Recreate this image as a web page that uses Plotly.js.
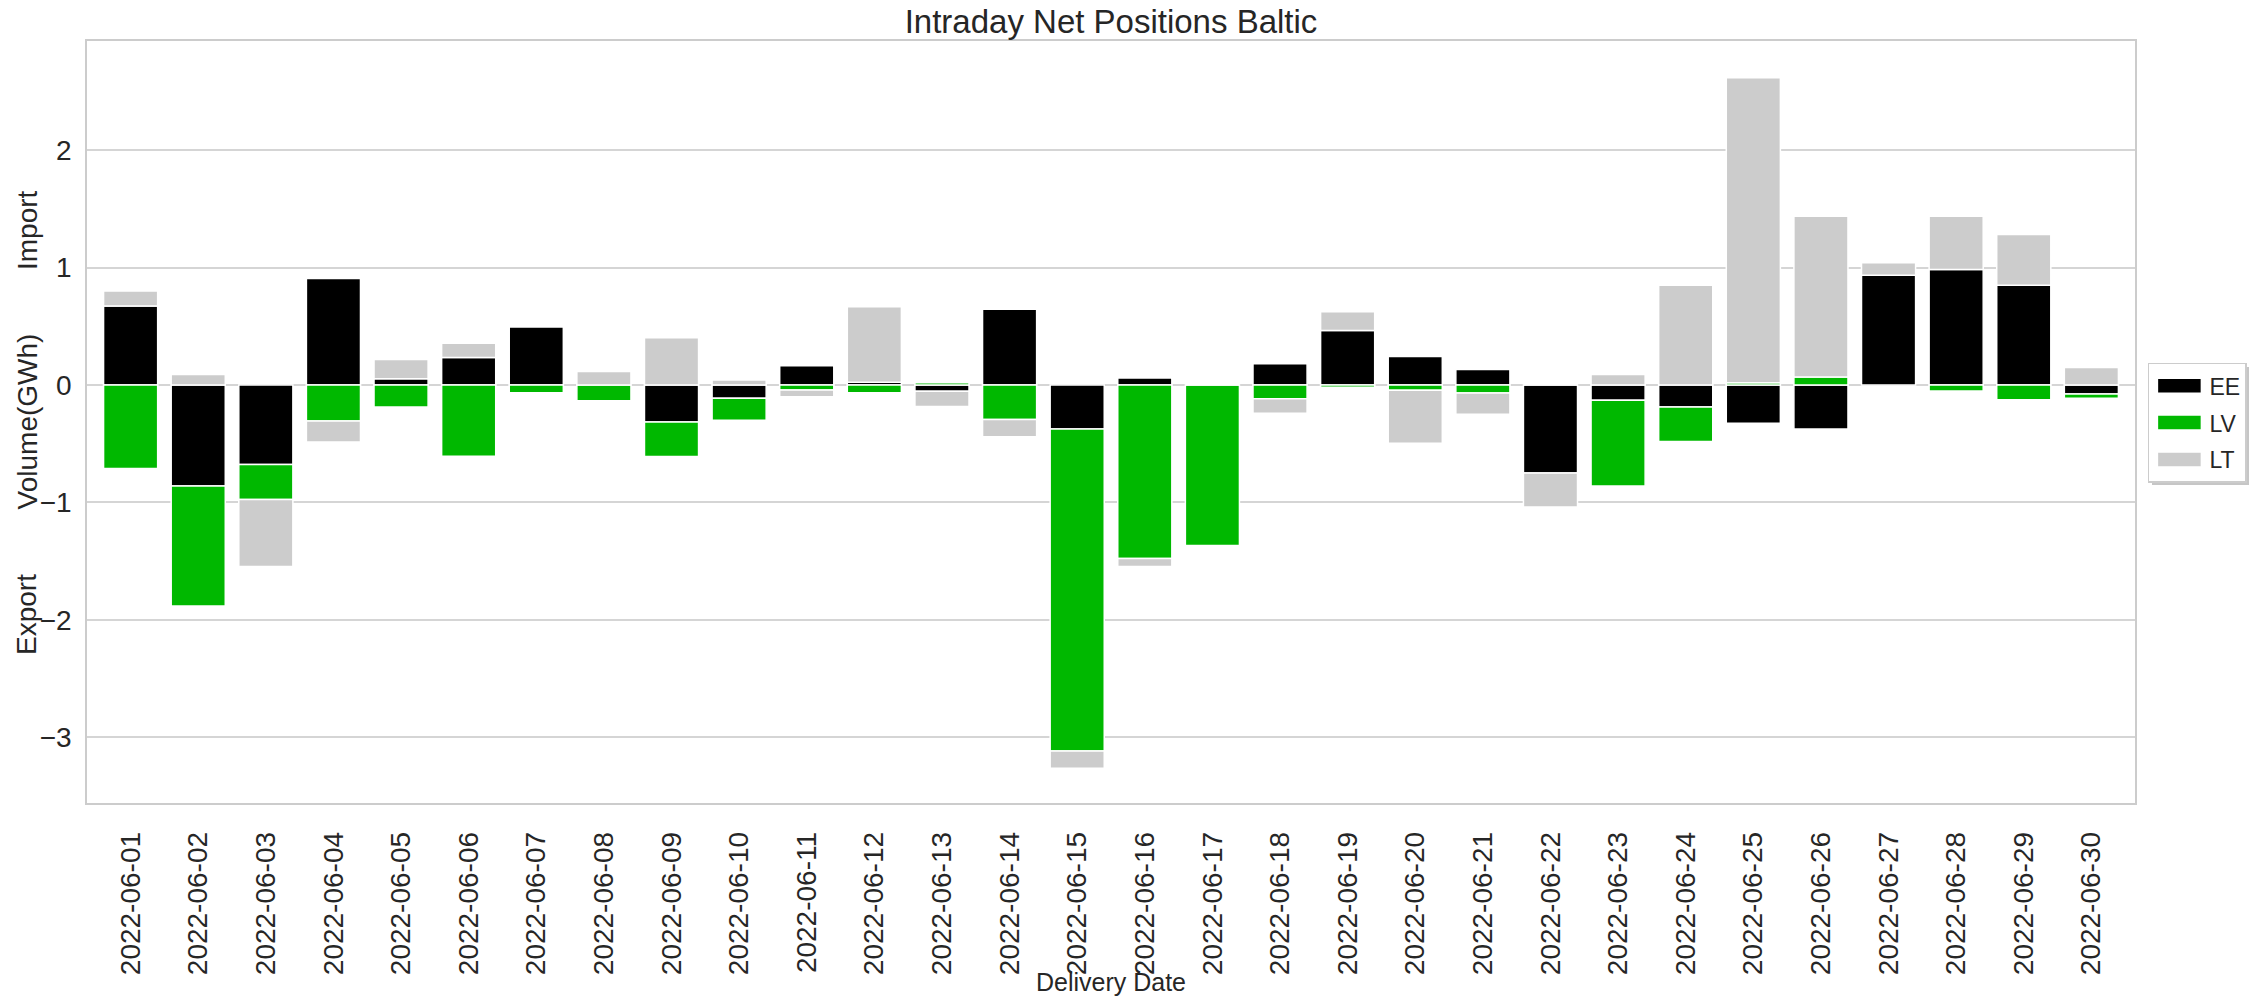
<!DOCTYPE html>
<html>
<head>
<meta charset="utf-8">
<script src="https://cdn.plot.ly/plotly-3.0.1.min.js"></script>
<style>
  html, body { margin: 0; padding: 0; background: #ffffff; }
  #chart { width: 2265px; height: 996px; }
</style>
</head>
<body>
<div id="chart"></div>
<script>
// ---- data (GWh) ----
const dates = [
  "2022-06-01","2022-06-02","2022-06-03","2022-06-04","2022-06-05","2022-06-06",
  "2022-06-07","2022-06-08","2022-06-09","2022-06-10","2022-06-11","2022-06-12",
  "2022-06-13","2022-06-14","2022-06-15","2022-06-16","2022-06-17","2022-06-18",
  "2022-06-19","2022-06-20","2022-06-21","2022-06-22","2022-06-23","2022-06-24",
  "2022-06-25","2022-06-26","2022-06-27","2022-06-28","2022-06-29","2022-06-30"
];
const eeValues = [
  0.672, -0.86, -0.677, 0.908, 0.053, 0.235,
  0.496, 0, -0.314, -0.113, 0.164, 0.023,
  -0.054, 0.646, -0.374, 0.059, 0, 0.181,
  0.465, 0.243, 0.132, -0.75, -0.13, -0.187,
  -0.326, -0.374, 0.935, 0.984, 0.85, -0.076
];
const lvValues = [
  -0.712, -1.023, -0.298, -0.307, -0.187, -0.606,
  -0.065, -0.133, -0.295, -0.187, -0.042, -0.065,
  0.02, -0.294, -2.743, -1.478, -1.367, -0.117,
  -0.018, -0.044, -0.067, 0, -0.73, -0.295,
  0.02, 0.068, 0, -0.051, -0.125, -0.037
];
const ltValues = [
  0.128, 0.089, -0.57, -0.178, 0.165, 0.12,
  0, 0.116, 0.402, 0.042, -0.057, 0.643,
  -0.13, -0.147, -0.147, -0.067, 0, -0.123,
  0.158, -0.453, -0.182, -0.29, 0.09, 0.85,
  2.598, 1.37, 0.107, 0.454, 0.432, 0.15
];
const seriesNames = ["EE", "LV", "LT"];
const seriesColors = ["#000000", "#00b800", "#cccccc"];
const yTickValues = [-3, -2, -1, 0, 1, 2];

const FONT = '"Liberation Sans", Arial, sans-serif';
const TEXT = '#262626';

const seriesValues = [eeValues, lvValues, ltValues];
const traces = seriesNames.map((name, i) => ({
  type: 'bar',
  name: name,
  x: dates,
  y: seriesValues[i],
  width: 0.8,
  legendgroup: name,
  marker: { color: seriesColors[i], line: { color: '#ffffff', width: 1.5 } },
  hovertemplate: '%{x}<br>' + name + ': %{y:.3f} GWh<extra></extra>'
}));

const yTitleFont = { family: FONT, size: 28, color: TEXT };

const layout = {
  width: 2265,
  height: 996,
  paper_bgcolor: '#ffffff',
  plot_bgcolor: '#ffffff',
  barmode: 'relative',
  bargap: 0.2,
  margin: { l: 87, r: 130, t: 41, b: 193, pad: 0 },
  font: { family: FONT, color: TEXT },
  title: {
    text: 'Intraday Net Positions Baltic',
    font: { family: FONT, size: 33, color: TEXT },
    x: 0.5, xref: 'paper', xanchor: 'center',
    y: 0.9784, yref: 'container', yanchor: 'middle'
  },
  xaxis: {
    type: 'category',
    range: [-0.645, 29.645],
    tickangle: -90,
    tickfont: { family: FONT, size: 28, color: TEXT },
    ticks: '',
    ticklabelstandoff: 16,
    showgrid: false,
    showline: true, mirror: true, linecolor: '#cccccc', linewidth: 1.5,
    zeroline: false,
    automargin: false,
    title: { text: 'Delivery Date', font: { family: FONT, size: 25, color: TEXT }, standoff: 0 }
  },
  yaxis: {
    range: [-3.56, 2.93],
    tickvals: yTickValues,
    tickfont: { family: FONT, size: 28, color: TEXT },
    ticks: '',
    ticklabelstandoff: 8,
    showgrid: true, gridcolor: '#d5d5d5', gridwidth: 1.5,
    showline: true, mirror: true, linecolor: '#cccccc', linewidth: 1.5,
    zeroline: false,
    automargin: false
  },
  legend: {
    x: 1.0063, xanchor: 'left', xref: 'paper',
    y: 0.499, yanchor: 'middle', yref: 'paper',
    font: { family: FONT, size: 23, color: TEXT },
    bgcolor: '#ffffff', bordercolor: '#cccccc', borderwidth: 1.5,
    itemwidth: 50, tracegroupgap: 4, traceorder: 'grouped'
  },
  annotations: [
    { text: 'Import', xref: 'paper', yref: 'y', x: -0.0293, y: 1.32, textangle: -90,
      showarrow: false, xanchor: 'center', yanchor: 'middle', font: yTitleFont },
    { text: 'Volume(GWh)', xref: 'paper', yref: 'y', x: -0.0293, y: -0.31, textangle: -90,
      showarrow: false, xanchor: 'center', yanchor: 'middle', font: yTitleFont },
    { text: 'Export', xref: 'paper', yref: 'y', x: -0.0293, y: -1.95, textangle: -90,
      showarrow: false, xanchor: 'center', yanchor: 'middle', font: yTitleFont }
  ]
};

Plotly.newPlot('chart', traces, layout, { displayModeBar: false, responsive: false }).then(gd => {
  // widen legend swatches to matplotlib-like patches
  document.querySelectorAll('#chart .legend .legendpoints path').forEach(p => {
    p.setAttribute('d', 'M22,7.5H-22V-7.5H22Z');
  });
  // soft drop shadow behind the legend box
  const bg = document.querySelector('#chart .legend rect.bg');
  if (bg) {
    const sh = bg.cloneNode(false);
    sh.setAttribute('class', 'legend-shadow');
    sh.setAttribute('transform', 'translate(3,3)');
    sh.style.fill = '#b8b8b8';
    sh.style.stroke = 'none';
    sh.style.fillOpacity = '0.8';
    bg.parentNode.insertBefore(sh, bg);
  }
});
</script>
</body>
</html>
